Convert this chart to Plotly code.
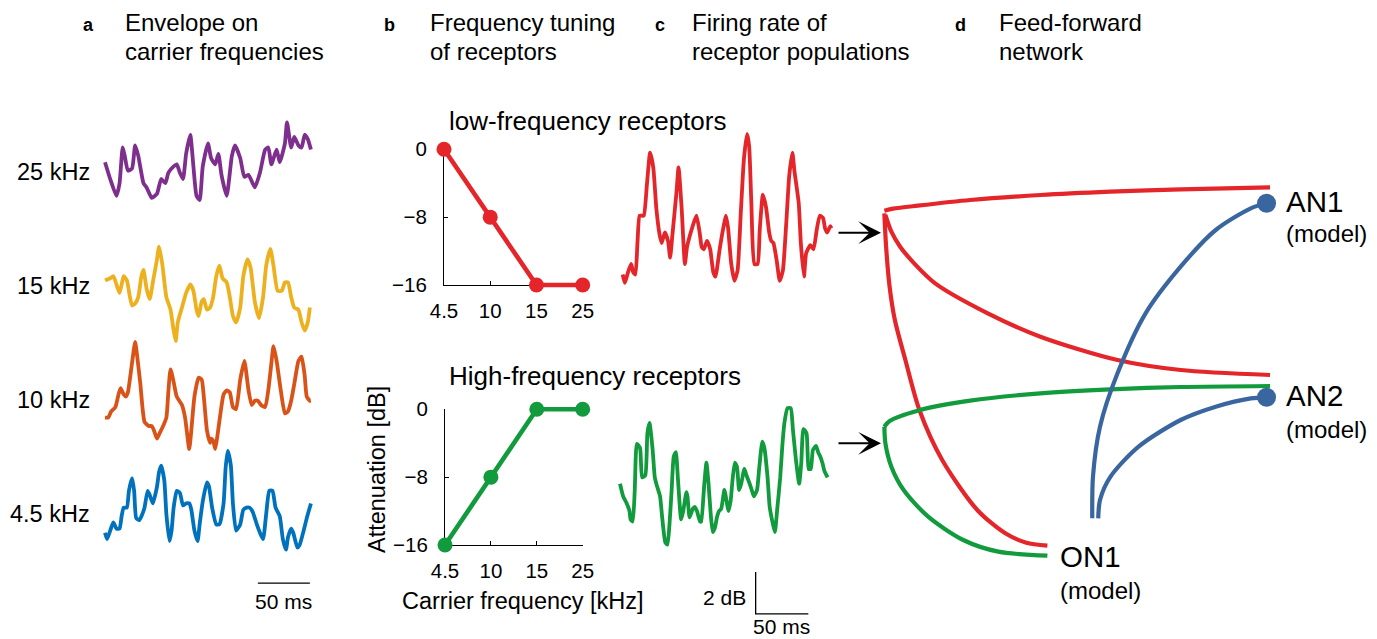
import plotly.graph_objects as go

W, H = 1377, 639
FONT = "Liberation Sans, Arial, Helvetica, sans-serif"

# ---------------- data ----------------
freq_labels = ["25 kHz", "15 kHz", "10 kHz", "4.5 kHz"]
t_25 = [0, 5, 11, 14, 17, 19, 22, 26, 29, 32, 37, 40, 45, 50, 54, 58, 61, 66, 69, 72, 75, 78, 82, 85, 88, 91,
        94, 99, 102, 106, 109, 112, 117, 122, 125, 130, 134, 138, 144, 149, 154, 157, 160, 165, 168, 173, 175,
        179, 182, 186, 189, 192, 195, 198]
env_25 = [1.8, 1.0, 0.2, 0.8, 2.5, 2.1, 1.4, 1.5, 2.6, 2.1, 0.8, 0.6, 0.1, 0.3, 1.0, 0.8, 1.3, 1.6, 1.7, 1.3,
          1.0, 2.2, 3.1, 1.6, 0.2, 0.0, 1.6, 2.7, 2.0, 1.7, 2.2, 1.2, 0.2, 2.1, 2.6, 2.0, 1.1, 1.2, 0.6, 1.3,
          2.4, 2.5, 1.7, 2.4, 1.8, 2.7, 3.7, 2.5, 3.0, 2.6, 2.5, 3.1, 2.9, 2.4]
t_15 = [0, 5, 8, 11, 14, 16, 18, 21, 24, 26, 29, 32, 35, 37, 40, 43, 46, 50, 52, 55, 59, 63, 66, 68, 70, 74,
        78, 82, 85, 88, 90, 93, 95, 98, 101, 104, 107, 110, 113, 117, 120, 123, 126, 130, 133, 137, 140, 144,
        148, 152, 155, 159, 162, 166, 170, 173, 176, 179, 182, 186, 189, 192, 195, 197]
env_15 = [3.0, 3.1, 3.2, 2.8, 2.4, 2.8, 3.2, 3.0, 2.2, 1.8, 1.9, 2.2, 3.2, 3.5, 2.6, 2.1, 2.9, 4.0, 4.6, 3.8,
          2.2, 1.6, 0.6, 0.1, 1.0, 1.7, 2.4, 2.8, 2.5, 1.6, 1.3, 2.0, 2.1, 1.6, 1.7, 2.2, 3.2, 3.7, 3.1, 2.9,
          2.2, 1.3, 1.0, 1.7, 3.2, 4.0, 3.6, 2.0, 1.2, 2.2, 3.7, 4.5, 3.7, 2.5, 2.5, 2.9, 2.9, 2.2, 1.7, 1.6,
          1.0, 0.6, 1.0, 1.7]
t_10 = [0, 3, 6, 10, 13, 15, 18, 20, 22, 26, 29, 31, 34, 36, 38, 42, 45, 47, 50, 52, 55, 59, 61, 63, 66, 69,
        74, 77, 81, 83, 86, 90, 93, 95, 98, 101, 102, 104, 106, 108, 111, 114, 117, 120, 123, 126, 130, 134,
        138, 141, 144, 147, 150, 154, 157, 160, 162, 165, 169, 173, 176, 179, 182, 186, 189, 192, 194, 197, 198]
env_10 = [1.7, 1.7, 2.0, 2.2, 2.8, 3.1, 2.8, 2.7, 2.9, 4.3, 5.3, 4.6, 3.3, 2.2, 1.5, 1.3, 1.3, 1.1, 0.7, 0.9,
          1.2, 1.7, 3.0, 4.0, 3.4, 2.7, 2.3, 1.7, 0.2, 1.1, 2.7, 3.6, 3.5, 2.7, 1.1, 0.5, 0.7, 0.6, 0.2, 0.8,
          1.9, 2.8, 3.0, 2.9, 2.2, 2.1, 3.5, 4.4, 3.0, 2.3, 2.5, 2.5, 2.3, 2.2, 3.0, 4.3, 5.1, 4.4, 3.0, 1.9,
          2.0, 2.5, 3.3, 4.4, 4.6, 3.7, 2.7, 2.5, 2.5]
t_45 = [0, 2, 5, 8, 11, 14, 16, 18, 21, 23, 26, 28, 30, 33, 36, 38, 41, 43, 46, 50, 52, 54, 57, 59, 62, 64,
        66, 69, 72, 75, 78, 81, 83, 86, 89, 91, 94, 98, 100, 103, 107, 110, 114, 116, 118, 121, 123, 126, 130,
        133, 136, 139, 142, 146, 149, 152, 155, 158, 161, 164, 168, 171, 174, 176, 179, 181, 185, 187, 191,
        194, 198]
env_45 = [0.9, 0.6, 1.0, 1.4, 1.1, 1.1, 1.7, 2.1, 2.1, 2.9, 3.5, 2.9, 1.6, 1.5, 1.8, 2.1, 2.9, 2.7, 2.3, 3.1,
          3.8, 4.1, 3.4, 1.8, 0.5, 1.0, 2.1, 2.9, 2.8, 2.2, 2.3, 2.3, 2.0, 1.0, 0.5, 1.3, 2.4, 3.3, 3.1, 2.1,
          1.3, 1.3, 2.3, 4.0, 4.8, 4.1, 2.3, 1.0, 1.3, 2.0, 2.1, 2.1, 1.9, 1.3, 0.9, 0.6, 1.8, 2.9, 2.9, 2.1,
          1.7, 0.6, 0.1, 0.7, 1.1, 0.9, 0.2, 0.3, 1.0, 1.6, 2.3]

carrier_khz = ["4.5", "10", "15", "25"]
att_low = [0, -8, -16, -16]
att_high = [-16, -8, 0, 0]
att_ticks = [0, -8, -16]
att_ticktext = ["0", "\u22128", "\u221216"]

t_low = [0, 2, 5, 8, 10, 12, 14, 16, 18, 20, 23, 26, 29, 32, 35, 37, 40, 43, 45, 47, 51, 53, 56, 59, 61, 64,
         67, 70, 73, 75, 77, 80, 83, 86, 88, 92, 95, 98, 100, 103, 106, 109, 112, 115, 118, 120, 122, 125, 128,
         130, 133, 136, 139, 141, 143, 146, 149, 152, 155, 158, 161, 163, 167, 169, 172, 174, 178, 181, 184,
         187, 190, 192, 194, 197, 198]
rate_low = [0.5, 0.1, 0.6, 1.0, 0.6, 0.5, 2.0, 3.3, 3.3, 3.3, 4.8, 6.3, 5.6, 3.6, 2.4, 2.0, 2.5, 2.1, 1.3, 2.3,
            4.4, 5.6, 3.6, 1.0, 1.8, 2.4, 2.9, 3.3, 2.5, 1.8, 1.7, 2.1, 1.7, 0.6, 0.4, 1.7, 2.6, 3.3, 2.7, 1.0,
            0.2, 0.7, 3.4, 6.0, 7.2, 6.6, 4.0, 1.0, 1.0, 2.6, 4.3, 3.7, 2.5, 2.1, 2.0, 1.2, 0.2, 0.7, 2.8, 5.2,
            6.3, 5.4, 3.9, 2.0, 0.4, 1.5, 1.9, 1.7, 2.6, 3.3, 3.2, 2.7, 2.5, 2.8, 2.7]
t_high = [0, 3, 6, 9, 10, 12, 14, 16, 19, 21, 24, 26, 28, 31, 33, 35, 38, 40, 43, 45, 47, 49, 51, 53, 55, 58,
          60, 63, 64, 66, 69, 71, 73, 76, 77, 80, 82, 84, 86, 88, 90, 92, 94, 96, 99, 100, 103, 105, 107, 109,
          111, 113, 115, 118, 120, 123, 125, 127, 130, 132, 135, 137, 140, 142, 145, 147, 149, 152, 154, 156,
          159, 162, 164, 167, 170, 172, 174, 177, 179, 181, 183, 186, 188, 190, 192, 194, 197]
rate_high = [3.0, 2.4, 2.1, 1.7, 1.3, 1.2, 2.7, 4.9, 4.7, 3.3, 3.4, 5.4, 5.9, 4.6, 3.3, 2.9, 2.4, 1.4, 0.2, 0.1,
             1.1, 2.7, 4.3, 4.5, 3.2, 1.3, 1.7, 2.6, 2.4, 1.4, 1.8, 1.9, 1.7, 1.2, 1.2, 3.0, 4.0, 3.0, 1.6, 0.7,
             0.9, 1.4, 1.7, 1.8, 2.7, 2.5, 1.7, 2.2, 3.3, 4.0, 3.8, 2.7, 3.0, 3.7, 3.4, 3.0, 2.7, 2.4, 2.7, 3.7,
             5.0, 4.7, 3.3, 1.9, 1.1, 0.7, 1.7, 3.3, 4.8, 5.9, 6.6, 6.6, 5.6, 4.1, 3.0, 4.0, 5.6, 5.4, 3.7, 3.7,
             4.6, 4.8, 4.5, 4.3, 4.0, 3.6, 3.3]

bar_a_ms = [147, 197]
bar_a_db = [-1.5, -1.5]
bar_c_ms = [128.7, 128.7, 178.7]
bar_c_db = [-1.2, -3.2, -3.2]

red_an1_x = [155, 180, 250, 400, 600, 800, 1000, 1255]
red_an1_y = [152, 146, 137, 120, 105, 95, 88, 82]
red_an2_x = [158, 175, 200, 240, 300, 450, 600, 820, 1000, 1255]
red_an2_y = [165, 215, 260, 310, 370, 460, 530, 600, 630, 645]
red_on1_x = [155, 160, 170, 185, 215, 255, 320, 420, 500, 560, 620]
red_on1_y = [160, 260, 380, 480, 600, 750, 900, 1050, 1120, 1148, 1157]
green_an2_x = [155, 170, 250, 400, 600, 800, 1000, 1255]
green_an2_y = [800, 783, 752, 722, 700, 688, 681, 678]
green_on1_x = [155, 158, 175, 210, 280, 380, 480, 620]
green_on1_y = [800, 850, 920, 990, 1070, 1140, 1175, 1187]
blue_an1_x = [748, 750, 770, 820, 900, 1000, 1100, 1200, 1245]
blue_an1_y = [1075, 950, 800, 640, 460, 320, 210, 145, 130]
blue_an2_x = [765, 770, 800, 880, 1000, 1100, 1200, 1245]
blue_an2_y = [1075, 1020, 950, 860, 780, 740, 715, 712]
node_x = [1245, 1245]
node_y = [130, 712]

PURPLE, YELLOW, ORANGE, BLUE = "#7E2F8E", "#EDB120", "#D95319", "#0072BD"
RED, GREEN, NBLUE = "#E4262A", "#119B3D", "#3A66A0"

layout = dict(width=W, height=H, margin=dict(l=0, r=0, t=0, b=0, pad=0, autoexpand=False),
              paper_bgcolor="white", plot_bgcolor="rgba(0,0,0,0)", showlegend=False,
              font=dict(family=FONT, size=20, color="black"), annotations=[])
count = [0]


def fx(px):
    return px / W


def fy(py):
    return 1 - py / H


def new_axes(xpx, xrange, ypx, yrange, xextra=None, yextra=None):
    count[0] += 1
    s = "" if count[0] == 1 else str(count[0])
    xa = dict(domain=[fx(xpx[0]), fx(xpx[1])], range=xrange, anchor="y" + s, visible=False,
              fixedrange=True, showgrid=False, zeroline=False)
    ya = dict(domain=[fy(ypx[1]), fy(ypx[0])], range=yrange, anchor="x" + s, visible=False,
              fixedrange=True, showgrid=False, zeroline=False)
    if xextra:
        xa.update(xextra)
    if yextra:
        ya.update(yextra)
    layout["xaxis" + s] = xa
    layout["yaxis" + s] = ya
    return "x" + s, "y" + s


def xr(left, right, x0, k):
    return [(left - x0) / k, (right - x0) / k]


def yr(top, bot, z, k):
    return [(z - bot) / k, (z - top) / k]


def ann(text, x, y, size=24, xanchor="left", yanchor="middle", bold=False, angle=0):
    layout["annotations"].append(dict(
        text=("<b>%s</b>" % text) if bold else text, x=fx(x), y=fy(y), xref="paper", yref="paper",
        xanchor=xanchor, yanchor=yanchor, showarrow=False, textangle=angle,
        font=dict(family=FONT, size=size, color="black")))


fig = go.Figure()

tick_style = dict(visible=True, showline=True, linecolor="black", linewidth=1.2, ticks="inside",
                  ticklen=4, tickwidth=1.1, tickcolor="black", tickfont=dict(family=FONT, size=20.5))
B_TOP = dict(x0=444, x1=582.7, y0=149.3, y1=285)
B_BOT = dict(x0=445, x1=582.7, y0=409.3, y1=545)
for box in (B_TOP, B_BOT):
    xa, ya = new_axes((box["x0"], box["x1"]), [0, 3], (box["y0"], box["y1"]), [-16, 0],
                      xextra=dict(tick_style, tickvals=[0, 1, 2, 3], ticktext=carrier_khz, ticklabelstandoff=7),
                      yextra=dict(tick_style, tickvals=att_ticks, ticktext=att_ticktext, ticklabelstandoff=12))
    fig.add_trace(go.Scatter(x=[], y=[], xaxis=xa, yaxis=ya, hoverinfo="skip"))

A_X0, A_K = 105, 1.04
env_specs = [
    (t_25, env_25, PURPLE, 105, 210, 200.0),
    (t_15, env_15, YELLOW, 236, 352, 343.3),
    (t_10, env_10, ORANGE, 330, 462, 453.3),
    (t_45, env_45, BLUE, 440, 592, 551.7),
]
label_y = [172, 286, 400, 514]
for (t, e, col, top, bot, z), lab, ly in zip(env_specs, freq_labels, label_y):
    xa, ya = new_axes((98, 318), xr(98, 318, A_X0, A_K), (top, bot), yr(top, bot, z, 21))
    fig.add_trace(go.Scatter(x=t, y=e, mode="lines",
                             line=dict(color=col, width=3.8, shape="spline", smoothing=0.5),
                             xaxis=xa, yaxis=ya, hoverinfo="skip"))
    ann(lab, 92, ly, size=23.5, xanchor="right")
fig.add_trace(go.Scatter(x=bar_a_ms, y=bar_a_db, mode="lines", line=dict(color="black", width=1.3),
                         xaxis=xa, yaxis=ya, hoverinfo="skip"))
ann("50 ms", 283, 601, size=21, xanchor="center")

for box, att, col in ((B_TOP, att_low, RED), (B_BOT, att_high, GREEN)):
    kx = (box["x1"] - box["x0"]) / 3
    ky = (box["y1"] - box["y0"]) / 16
    L, R, T, B = box["x0"] - 12, box["x1"] + 12, box["y0"] - 12, box["y1"] + 12
    xa, ya = new_axes((L, R), xr(L, R, box["x0"], kx), (T, B), yr(T, B, box["y0"], ky))
    fig.add_trace(go.Scatter(x=[0, 1, 2, 3], y=att, mode="lines+markers",
                             line=dict(color=col, width=4.6), marker=dict(color=col, size=15),
                             xaxis=xa, yaxis=ya, hoverinfo="skip", cliponaxis=False))

ann("low-frequency receptors", 447, 121, size=26)
ann("High-frequency receptors", 447, 376, size=26)
ann("Attenuation [dB]", 377, 470, size=23.5, xanchor="center", angle=-90)
ann("Carrier frequency [kHz]", 523, 601, size=23.5, xanchor="center")

C_K = 1.054
xa, ya = new_axes((612, 842), xr(612, 842, 622.7, C_K), (115, 295), yr(115, 295, 285, 21))
fig.add_trace(go.Scatter(x=t_low, y=rate_low, mode="lines",
                         line=dict(color=RED, width=3.8, shape="spline", smoothing=0.5),
                         xaxis=xa, yaxis=ya, hoverinfo="skip"))
xa, ya = new_axes((610, 842), xr(610, 842, 620, C_K), (395, 622), yr(395, 622, 546.7, 21))
fig.add_trace(go.Scatter(x=t_high, y=rate_high, mode="lines",
                         line=dict(color=GREEN, width=3.8, shape="spline", smoothing=0.5),
                         xaxis=xa, yaxis=ya, hoverinfo="skip"))
fig.add_trace(go.Scatter(x=bar_c_ms, y=bar_c_db, mode="lines", line=dict(color="black", width=1.3),
                         xaxis=xa, yaxis=ya, hoverinfo="skip"))
ann("2 dB", 748, 597, size=21, xanchor="right")
ann("50 ms", 781, 640, size=21, xanchor="center", yanchor="bottom")

for ay_px in (232.7, 443.3):
    layout["annotations"].append(dict(
        x=fx(881), y=fy(ay_px), xref="paper", yref="paper", ax=-44, ay=0, axref="pixel", ayref="pixel",
        text="", showarrow=True, arrowhead=3, arrowsize=1.9, arrowwidth=2, arrowcolor="black", standoff=0))

D_RIGHT = 1377
xa, ya = new_axes((830, D_RIGHT), [0, (D_RIGHT - 830) * 2.852], (160, 600), [1320, 0])
for xs, ys, col in ((red_an1_x, red_an1_y, RED), (red_an2_x, red_an2_y, RED), (red_on1_x, red_on1_y, RED),
                    (green_an2_x, green_an2_y, GREEN), (green_on1_x, green_on1_y, GREEN),
                    (blue_an1_x, blue_an1_y, NBLUE), (blue_an2_x, blue_an2_y, NBLUE)):
    fig.add_trace(go.Scatter(x=xs, y=ys, mode="lines", line=dict(color=col, width=4.2, shape="spline", smoothing=0.8),
                             xaxis=xa, yaxis=ya, hoverinfo="skip"))
fig.add_trace(go.Scatter(x=node_x, y=node_y, mode="markers", marker=dict(color=NBLUE, size=19),
                         xaxis=xa, yaxis=ya, hoverinfo="skip", cliponaxis=False))

ann("AN1", 1284, 201, size=29.5)
ann("(model)", 1284, 234, size=24)
ann("AN2", 1284, 396, size=29.5)
ann("(model)", 1284, 429, size=24)
ann("ON1", 1058, 556, size=29.5)
ann("(model)", 1058, 590, size=24)

for letter, lx, tx, line1, line2 in (("a", 88, 123, "Envelope on", "carrier frequencies"),
                                     ("b", 390, 428, "Frequency tuning", "of receptors"),
                                     ("c", 660, 690, "Firing rate of", "receptor populations"),
                                     ("d", 960, 997, "Feed-forward", "network")):
    ann(letter, lx, 25, size=18, xanchor="center", bold=True)
    ann(line1, tx, 22, size=24)
    ann(line2, tx, 52, size=24)

fig.update_layout(**layout)
fig.write_html("out.html")
